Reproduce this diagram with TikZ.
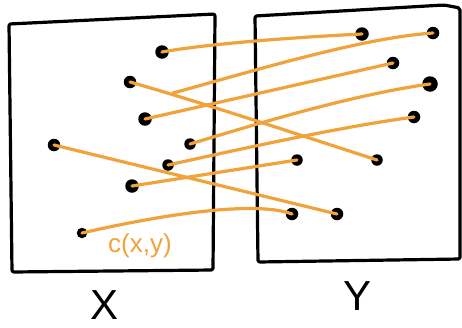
\documentclass[tikz,border=0pt]{standalone}
\usepackage{fontspec}
\setmainfont{Liberation Sans}
\definecolor{penorange}{RGB}{240,163,58}

\begin{document}
\begin{tikzpicture}[
        x=1pt, y=-1pt,
        frame/.style={draw=black, line width=3.2pt, line join=round, rounded corners=2pt},
        pt/.style={circle, fill=black, inner sep=0pt, minimum size=12.5pt},
        cost/.style={draw=penorange, line width=3.2pt, line cap=round},
        setlabel/.style={font=\fontsize{42}{42}\selectfont}
    ]
    \useasboundingbox (0,0) rectangle (462,327);

    % ================= X =================
    \draw[frame] (9,24) -- (215,14) -- (213,270) -- (12,272) -- cycle;
    \node[setlabel] (xlab) at (105,305) {X};

    % Points of X
    \node[pt, minimum size=13.5pt] (l1) at (162,52) {};
    \node[pt] (l2) at (130,82) {};
    \node[pt, minimum size=13.5pt] (l3) at (145,119) {};
    \node[pt] (l4) at (54,145) {};
    \node[pt, minimum size=11.5pt] (l5) at (190,144) {};
    \node[pt, minimum size=11.5pt] (l6) at (168,165) {};
    \node[pt, minimum size=13.5pt] (l7) at (132,186) {};
    \node[pt, minimum size=10.5pt] (l8) at (82,233) {};

    % ================= Y =================
    \draw[frame] (255,16) -- (444,5) -- (460,8) -- (460,259) -- (258,262) -- cycle;
    \node[setlabel] (ylab) at (357,296) {Y};

    % Points of Y
    \node[pt, minimum size=13.5pt] (r1) at (362,34) {};
    \node[pt] (r2) at (433,33) {};
    \node[pt] (r3) at (393,63) {};
    \node[pt, minimum size=15.5pt] (r4) at (430,84) {};
    \node[pt] (r5) at (414,117) {};
    \node[pt, minimum size=11.5pt] (r6) at (297,160) {};
    \node[pt, minimum size=11.5pt] (r7) at (377,160) {};
    \node[pt] (r8) at (292,214) {};
    \node[pt] (r9) at (337,214) {};

    % ================= Coupling =================
    \coordinate (split) at (173,93);
    \draw[cost] (l1.center) .. controls (200,45) and (280,38) .. (r1.center);
    \draw[cost] (l2.center) .. controls (200,102) and (300,135) .. (r7.center);
    \draw[cost] (split) .. controls (250,72) and (360,38) .. (r2.center);
    \draw[cost] (l3.center) -- (r3.center);
    \draw[cost] (l5.center) .. controls (250,126) and (350,95) .. (r4.center);
    \draw[cost] (l6.center) .. controls (250,147) and (340,127) .. (r5.center);
    \draw[cost] (l7.center) -- (r6.center);
    \draw[cost] (l4.center) -- (r9.center);
    \draw[cost] (l8.center) .. controls (160,215) and (255,200) .. (r8.center);

    \node[text=penorange, font=\fontsize{26}{26}\selectfont] (cxy) at (140,246) {c(x,y)};

\end{tikzpicture}
\end{document}
